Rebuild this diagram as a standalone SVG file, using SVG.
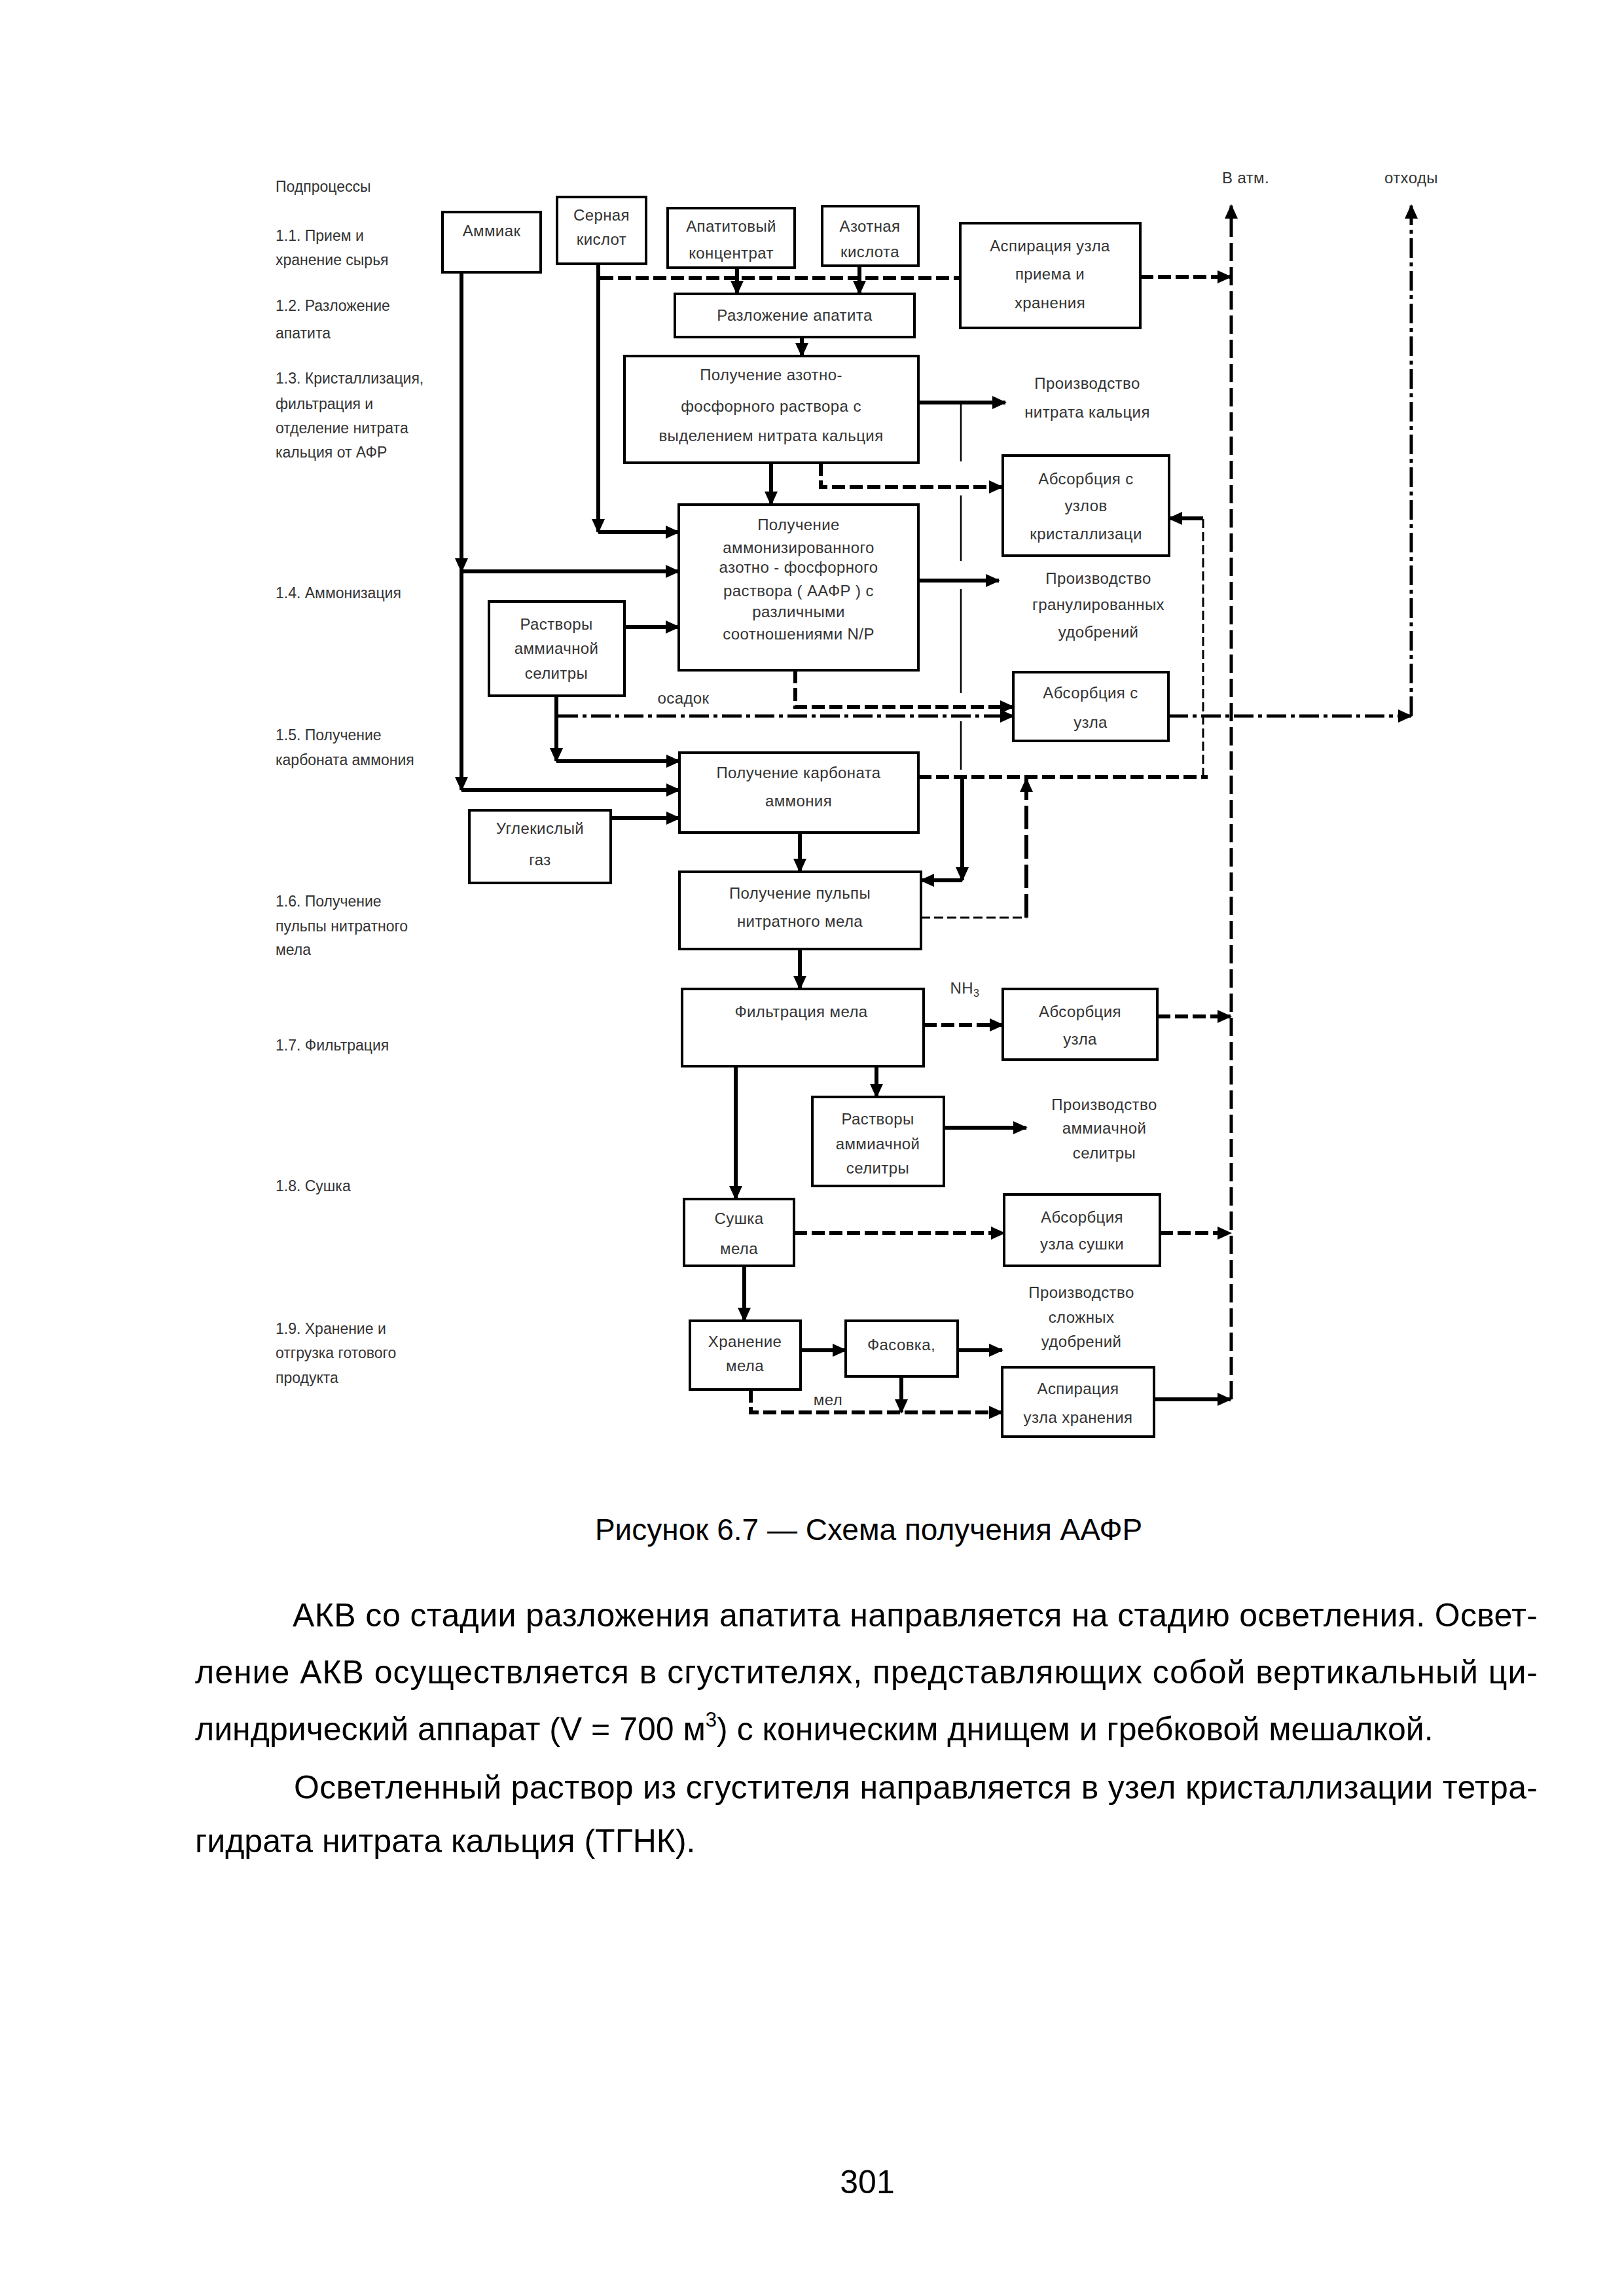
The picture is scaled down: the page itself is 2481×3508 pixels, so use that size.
<svg xmlns="http://www.w3.org/2000/svg" width="2481" height="3508" viewBox="0 0 2481 3508">
<defs>
<style>
.box{fill:#fff;stroke:#000;stroke-width:4}
.t{font-family:"Liberation Sans",Arial,sans-serif;font-size:24px;fill:#333;text-anchor:middle;letter-spacing:0.4px}
.l{font-family:"Liberation Sans",Arial,sans-serif;font-size:23px;fill:#333;text-anchor:start}
.s{fill:none;stroke:#000;stroke-width:6}
.d{fill:none;stroke:#000;stroke-width:6;stroke-dasharray:20 7}
.dd{fill:none;stroke:#000;stroke-width:5;stroke-dasharray:30 7 6 7}
.ld{fill:none;stroke:#000;stroke-width:5;stroke-dasharray:28 9}
.thin{fill:none;stroke:#000;stroke-width:2.5}
.td{fill:none;stroke:#000;stroke-width:3;stroke-dasharray:14 6}
.body{font-family:"Liberation Sans",Arial,sans-serif;font-size:50px;fill:#000}
.cap{font-family:"Liberation Sans",Arial,sans-serif;font-size:46px;fill:#000;text-anchor:middle}
</style>
<marker id="a" viewBox="0 0 22 20" refX="20" refY="10" markerWidth="22" markerHeight="20" orient="auto" markerUnits="userSpaceOnUse"><path d="M0,0 L22,10 L0,20 Z" fill="#000"/></marker>
</defs>
<rect width="2481" height="3508" fill="#fff"/>

<g id="labels">
<text class="l" x="421" y="293">Подпроцессы</text>
<text class="l" x="421" y="368">1.1. Прием и</text>
<text class="l" x="421" y="405">хранение сырья</text>
<text class="l" x="421" y="475">1.2. Разложение</text>
<text class="l" x="421" y="517">апатита</text>
<text class="l" x="421" y="586">1.3. Кристаллизация,</text>
<text class="l" x="421" y="625">фильтрация и</text>
<text class="l" x="421" y="662">отделение нитрата</text>
<text class="l" x="421" y="699">кальция от АФР</text>
<text class="l" x="421" y="914">1.4. Аммонизация</text>
<text class="l" x="421" y="1131">1.5. Получение</text>
<text class="l" x="421" y="1169">карбоната аммония</text>
<text class="l" x="421" y="1385">1.6. Получение</text>
<text class="l" x="421" y="1423">пульпы нитратного</text>
<text class="l" x="421" y="1459">мела</text>
<text class="l" x="421" y="1605">1.7. Фильтрация</text>
<text class="l" x="421" y="1820">1.8. Сушка</text>
<text class="l" x="421" y="2038">1.9. Хранение и</text>
<text class="l" x="421" y="2075">отгрузка готового</text>
<text class="l" x="421" y="2113">продукта</text>
<text class="t" x="1903" y="280">В атм.</text>
<text class="t" x="2156" y="280">отходы</text>
<text class="t" x="1661" y="594">Производство</text>
<text class="t" x="1661" y="638">нитрата кальция</text>
<text class="t" x="1678" y="892">Производство</text>
<text class="t" x="1678" y="932">гранулированных</text>
<text class="t" x="1678" y="974">удобрений</text>
<text class="t" x="1044" y="1075">осадок</text>
<text class="t" x="1474" y="1518">NH<tspan font-size="16" dy="5">3</tspan></text>
<text class="t" x="1687" y="1696">Производство</text>
<text class="t" x="1687" y="1732">аммиачной</text>
<text class="t" x="1687" y="1770">селитры</text>
<text class="t" x="1652" y="1983">Производство</text>
<text class="t" x="1652" y="2021">сложных</text>
<text class="t" x="1652" y="2058">удобрений</text>
<text class="t" x="1265" y="2147">мел</text>
</g>

<g id="connectors">
<path class="s" d="M705,416 V873" marker-end="url(#a)"/>
<path class="s" d="M705,873 V1207" marker-end="url(#a)"/>
<path class="s" d="M705,873 H1037" marker-end="url(#a)"/>
<path class="s" d="M705,1207 H1038" marker-end="url(#a)"/>
<path class="s" d="M914,403 V813" marker-end="url(#a)"/>
<path class="s" d="M914,813 H1037" marker-end="url(#a)"/>
<path class="s" d="M1126,409 V449" marker-end="url(#a)"/>
<path class="s" d="M1313,406 V449" marker-end="url(#a)"/>
<path class="s" d="M1225,515 V544" marker-end="url(#a)"/>
<path class="s" d="M1178,707 V771" marker-end="url(#a)"/>
<path class="s" d="M1403,615 H1536" marker-end="url(#a)"/>
<path class="s" d="M954,958 H1037" marker-end="url(#a)"/>
<path class="s" d="M850,1063 V1163" marker-end="url(#a)"/>
<path class="s" d="M850,1163 H1038" marker-end="url(#a)"/>
<path class="s" d="M933,1250 H1038" marker-end="url(#a)"/>
<path class="s" d="M1403,887 H1526" marker-end="url(#a)"/>
<path class="s" d="M1222,1272 V1332" marker-end="url(#a)"/>
<path class="thin" d="M1468,615 V705 M1468,757 V857 M1468,900 V1059 M1468,1102 V1176"/>
<path class="s" d="M1470,1187 V1345" marker-end="url(#a)"/>
<path class="s" d="M1470,1345 H1407" marker-end="url(#a)"/>
<path class="s" d="M1222,1450 V1511" marker-end="url(#a)"/>
<path class="s" d="M1339,1629 V1676" marker-end="url(#a)"/>
<path class="s" d="M1442,1723 H1568" marker-end="url(#a)"/>
<path class="s" d="M1124,1629 V1832" marker-end="url(#a)"/>
<path class="s" d="M1137,1934 V2018" marker-end="url(#a)"/>
<path class="s" d="M1223,2063 H1292" marker-end="url(#a)"/>
<path class="s" d="M1463,2063 H1531" marker-end="url(#a)"/>
<path class="s" d="M1377,2103 V2158" marker-end="url(#a)"/>
<path class="s" d="M1763,2138 H1880" marker-end="url(#a)"/>
<path class="d" d="M917,425 H1467"/>
<path class="d" d="M1742,423 H1880" marker-end="url(#a)"/>
<path class="d" d="M1254,707 V744 H1531" marker-end="url(#a)"/>
<path class="d" d="M1215,1024 V1080 H1548" marker-end="url(#a)"/>
<path class="d" d="M1403,1187 H1845"/>
<path class="td" d="M1838,1187 V792"/>
<path class="s" d="M1838,792 H1786" marker-end="url(#a)"/>
<path class="td" d="M1407,1402 H1568"/>
<path class="d" d="M1568,1402 V1190" marker-end="url(#a)" style="stroke-dasharray:36 9"/>
<path class="d" d="M1411,1566 H1532" marker-end="url(#a)"/>
<path class="d" d="M1768,1553 H1880" marker-end="url(#a)"/>
<path class="d" d="M1213,1884 H1534" marker-end="url(#a)"/>
<path class="d" d="M1772,1884 H1880" marker-end="url(#a)"/>
<path class="d" d="M1147,2123 V2158 H1531" marker-end="url(#a)"/>
<path class="dd" d="M853,1094 H1548" marker-end="url(#a)"/>
<path class="dd" d="M1785,1094 H2156" marker-end="url(#a)"/>
<path class="dd" d="M2156,1094 V314" marker-end="url(#a)"/>
<path class="ld" d="M1881,2138 V314" marker-end="url(#a)"/>
</g>

<g id="n-ammiak"><rect class="box" x="676" y="324" width="150" height="92"/><text class="t" x="751" y="361">Аммиак</text></g>
<g id="n-sernaya"><rect class="box" x="851" y="301" width="136" height="102"/><text class="t" x="919" y="337">Серная</text><text class="t" x="919" y="374">кислот</text></g>
<g id="n-apatit"><rect class="box" x="1020" y="318" width="194" height="91"/><text class="t" x="1117" y="354">Апатитовый</text><text class="t" x="1117" y="395">концентрат</text></g>
<g id="n-azotnaya"><rect class="box" x="1256" y="315" width="147" height="91"/><text class="t" x="1329" y="354">Азотная</text><text class="t" x="1329" y="393">кислота</text></g>
<g id="n-aspir1"><rect class="box" x="1467" y="341" width="275" height="160"/><text class="t" x="1604" y="384">Аспирация узла</text><text class="t" x="1604" y="427">приема  и</text><text class="t" x="1604" y="471">хранения</text></g>
<g id="n-razl"><rect class="box" x="1031" y="449" width="366" height="66"/><text class="t" x="1214" y="490">Разложение апатита</text></g>
<g id="n-afr"><rect class="box" x="954" y="544" width="449" height="163"/><text class="t" x="1178" y="581">Получение азотно-</text><text class="t" x="1178" y="629">фосфорного раствора с</text><text class="t" x="1178" y="674">выделением нитрата кальция</text></g>
<g id="n-aafr"><rect class="box" x="1037" y="771" width="366" height="253"/><text class="t" x="1220" y="810">Получение</text><text class="t" x="1220" y="845">аммонизированного</text><text class="t" x="1220" y="875">азотно - фосфорного</text><text class="t" x="1220" y="911">раствора ( ААФР ) с</text><text class="t" x="1220" y="943">различными</text><text class="t" x="1220" y="977">соотношениями  N/P</text></g>
<g id="n-abs-kr"><rect class="box" x="1532" y="696" width="254" height="153"/><text class="t" x="1659" y="740">Абсорбция с</text><text class="t" x="1659" y="781">узлов</text><text class="t" x="1659" y="824">кристаллизаци</text></g>
<g id="n-rastv1"><rect class="box" x="747" y="919" width="207" height="144"/><text class="t" x="850" y="962">Растворы</text><text class="t" x="850" y="999">аммиачной</text><text class="t" x="850" y="1037">селитры</text></g>
<g id="n-abs-uzla1"><rect class="box" x="1548" y="1027" width="237" height="105"/><text class="t" x="1666" y="1067">Абсорбция с</text><text class="t" x="1666" y="1112">узла</text></g>
<g id="n-karb"><rect class="box" x="1038" y="1150" width="365" height="122"/><text class="t" x="1220" y="1189">Получение карбоната</text><text class="t" x="1220" y="1232">аммония</text></g>
<g id="n-co2"><rect class="box" x="717" y="1238" width="216" height="111"/><text class="t" x="825" y="1274">Углекислый</text><text class="t" x="825" y="1322">газ</text></g>
<g id="n-pulpa"><rect class="box" x="1038" y="1332" width="369" height="118"/><text class="t" x="1222" y="1373">Получение пульпы</text><text class="t" x="1222" y="1416">нитратного мела</text></g>
<g id="n-filtr"><rect class="box" x="1042" y="1511" width="369" height="118"/><text class="t" x="1224" y="1554">Фильтрация  мела</text></g>
<g id="n-abs-uzla2"><rect class="box" x="1532" y="1511" width="236" height="108"/><text class="t" x="1650" y="1554">Абсорбция</text><text class="t" x="1650" y="1596">узла</text></g>
<g id="n-rastv2"><rect class="box" x="1241" y="1676" width="201" height="136"/><text class="t" x="1341" y="1718">Растворы</text><text class="t" x="1341" y="1756">аммиачной</text><text class="t" x="1341" y="1793">селитры</text></g>
<g id="n-sushka"><rect class="box" x="1045" y="1832" width="168" height="102"/><text class="t" x="1129" y="1870">Сушка</text><text class="t" x="1129" y="1916">мела</text></g>
<g id="n-abs-sush"><rect class="box" x="1534" y="1825" width="238" height="109"/><text class="t" x="1653" y="1868">Абсорбция</text><text class="t" x="1653" y="1909">узла сушки</text></g>
<g id="n-hran"><rect class="box" x="1054" y="2018" width="169" height="105"/><text class="t" x="1138" y="2058">Хранение</text><text class="t" x="1138" y="2095">мела</text></g>
<g id="n-fasovka"><rect class="box" x="1292" y="2018" width="171" height="85"/><text class="t" x="1377" y="2063">Фасовка,</text></g>
<g id="n-aspir2"><rect class="box" x="1531" y="2089" width="232" height="106"/><text class="t" x="1647" y="2130">Аспирация</text><text class="t" x="1647" y="2174">узла хранения</text></g>

<g id="page-text">
<text class="cap" x="1327" y="2353">Рисунок 6.7 — Схема получения ААФР</text>
<text class="body" x="447" y="2485" textLength="1902" lengthAdjust="spacing">АКВ со стадии разложения апатита направляется на стадию осветления. Освет-</text>
<text class="body" x="298" y="2572" textLength="2051" lengthAdjust="spacing">ление АКВ осуществляется в сгустителях, представляющих собой вертикальный ци-</text>
<text class="body" x="298" y="2659">линдрический аппарат (V = 700 м<tspan font-size="31" dy="-21">3</tspan><tspan dy="21">) с коническим днищем и гребковой мешалкой.</tspan></text>
<text class="body" x="449" y="2748" textLength="1900" lengthAdjust="spacing">Осветленный раствор из сгустителя направляется в узел кристаллизации тетра-</text>
<text class="body" x="298" y="2830">гидрата нитрата кальция (ТГНК).</text>
<text class="body" x="1325" y="3351" text-anchor="middle">301</text>
</g>
</svg>
